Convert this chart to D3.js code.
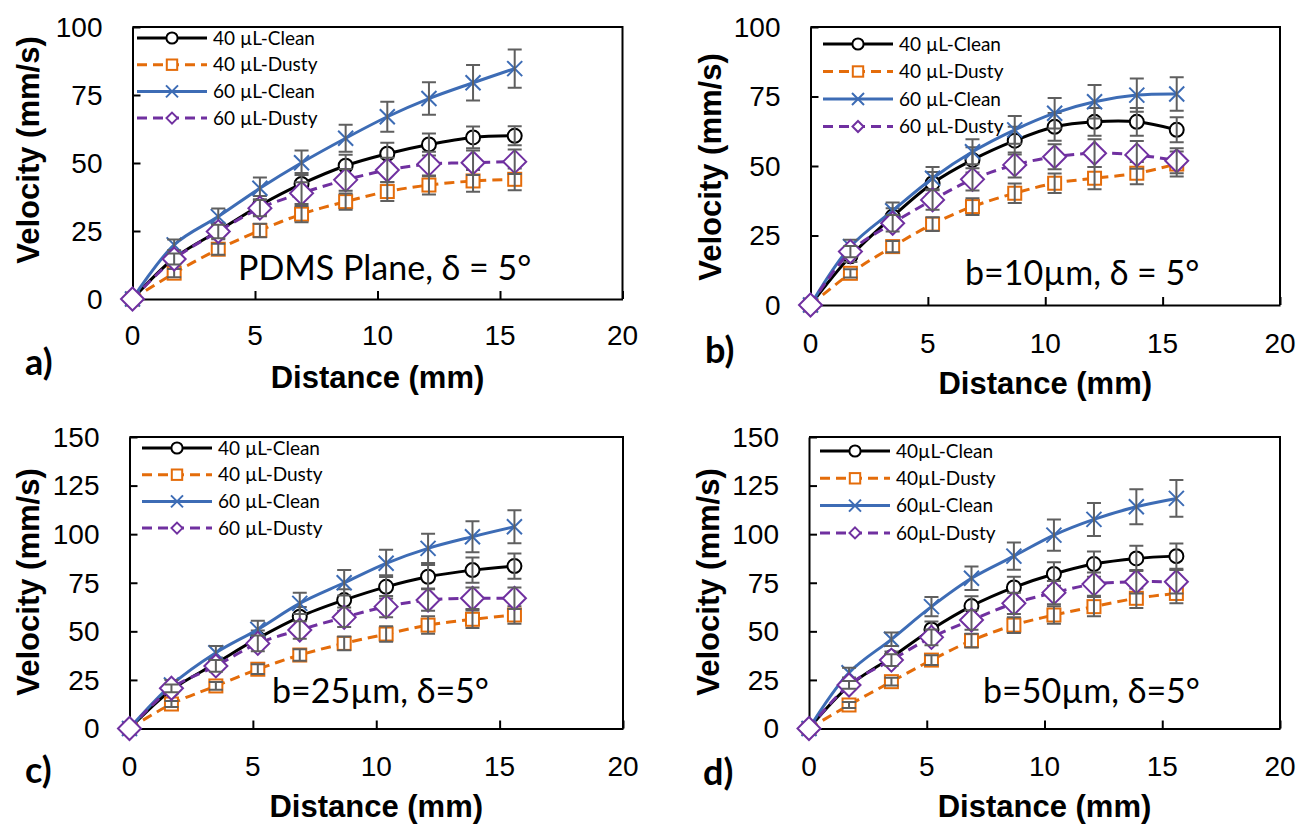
<!DOCTYPE html>
<html>
<head>
<meta charset="utf-8">
<script src="https://cdn.jsdelivr.net/npm/d3@7"></script>
<style>
  body { margin: 0; background: #fff; }
  svg { display: block; }
</style>
</head>
<body>
<div id="chart"></div>
<script>
"use strict";

// ---- data ----
const distance = [0, 1.7, 3.5, 5.2, 6.9, 8.7, 10.4, 12.1, 13.9, 15.6];
const xTicks = [0, 5, 10, 15, 20];
const yTicksTop = [0, 25, 50, 75, 100];
const yTicksBottom = [0, 25, 50, 75, 100, 125, 150];
const legendSpaced = ["40 µL-Clean", "40 µL-Dusty", "60 µL-Clean", "60 µL-Dusty"];
const legendTight = ["40µL-Clean", "40µL-Dusty", "60µL-Clean", "60µL-Dusty"];
const notes = ["PDMS Plane, δ = 5°", "b=10µm, δ = 5°", "b=25µm, δ=5°", "b=50µm, δ=5°"];
const letters = ["a)", "b)", "c)", "d)"];

// rows: 40 clean, 40 dusty, 60 clean, 60 dusty (mm/s)
const velA = [
  [0, 15, 25, 34.4, 42.3, 49, 53.4, 56.8, 59.4, 60],
  [0, 9.5, 18.3, 25.2, 31.2, 35.8, 39.5, 41.9, 43.4, 44],
  [0, 19.9, 30.3, 40.7, 50.1, 59.1, 67, 73.7, 79.5, 84.7],
  [0, 14.7, 24.8, 33.4, 38.9, 43.8, 47.4, 49.6, 50.1, 50.5]
];
const errA = [
  [0, 2, 3, 3.5, 4, 4, 4, 4, 4, 3.5],
  [0, 1.5, 2, 2.5, 3, 3, 3.5, 3.5, 4, 4],
  [0, 2, 3, 4, 4.5, 5, 5.5, 6, 6.5, 7],
  [0, 2, 2.5, 3, 4, 4, 4.5, 4.5, 4.5, 4.5]
];
const velB = [
  [0, 17.5, 31.8, 43.8, 52.2, 59.1, 64.1, 65.9, 65.9, 63],
  [0, 11.4, 21, 29.1, 35.4, 40.2, 43.8, 45.6, 47.4, 50.7],
  [0, 21, 33.9, 45.6, 55.1, 63, 69, 73.1, 75.5, 75.9],
  [0, 19.2, 29.4, 37.8, 45.2, 50.4, 53.3, 54.6, 54, 51.9]
];
const errB = [
  [0, 2, 3, 4, 4.5, 5, 5, 5, 5, 4.5],
  [0, 1.5, 2, 2.5, 3, 3.5, 3.5, 4, 4, 4.5],
  [0, 2.5, 3, 4, 4.5, 5, 5.5, 6, 6, 6],
  [0, 2, 3, 3.5, 4, 4.5, 4.5, 5, 5, 4.5]
];
const velC = [
  [0, 19.8, 33.5, 46.4, 57.5, 66.1, 72.9, 78.1, 81.5, 83.6],
  [0, 12.6, 21.9, 30.5, 37.8, 43.8, 48.6, 53.2, 56.2, 58.4],
  [0, 22.4, 39, 51, 64.4, 75, 85, 92.7, 98.7, 103.8],
  [0, 20.7, 32.2, 43.8, 50.7, 57.2, 62.7, 66.1, 67, 67]
];
const errC = [
  [0, 2, 3, 4, 5, 5.5, 6, 6, 6.5, 6.5],
  [0, 1.5, 2, 2.5, 3, 3.5, 4, 4.5, 4.5, 4.5],
  [0, 2.5, 3.5, 4.5, 5.5, 6.5, 7, 7.5, 8, 8.5],
  [0, 2, 3, 4, 4.5, 5, 5.5, 5.5, 5.5, 5.5]
];
const velD = [
  [0, 21.9, 36.6, 51, 63, 72.6, 79.5, 84.6, 87.5, 88.7],
  [0, 12.1, 24.1, 35.2, 45.2, 53.2, 58.4, 62.7, 67, 69.5],
  [0, 28.7, 45.9, 62.7, 77.3, 88.7, 99.5, 107.6, 114.1, 118.4],
  [0, 22.4, 35.2, 46.9, 55.8, 64.4, 69.9, 74.3, 75.5, 75.5]
];
const errD = [
  [0, 2, 3, 4, 5, 5.5, 6, 6.5, 6.5, 6.5],
  [0, 1.5, 2, 2.5, 3.5, 4, 4.5, 5, 5, 5],
  [0, 2.5, 3.5, 5, 6, 7, 8, 8.5, 9, 9.5],
  [0, 2, 3, 4, 5, 5.5, 6, 6, 6, 6]
];

// ---- layout ----
const W = 1300, H = 825;
const panels = [
  { vel: velA, err: errA, yMax: 100, yTicks: yTicksTop, legend: legendSpaced,
    box: { l: 132.5, r: 622.5, t: 27, b: 299 }, tickLabelDy: 36, xTitleDy: 78,
    leg: { x: 137, y: 38, dy: 26.7 }, note: { x: 238, y: 280 },
    letter: { x: 25, y: 362 }, yTitle: { x: 28, y: 150 } },
  { vel: velB, err: errB, yMax: 100, yTicks: yTicksTop, legend: legendSpaced,
    box: { l: 810.5, r: 1280, t: 27, b: 305 }, tickLabelDy: 38, xTitleDy: 78,
    leg: { x: 823, y: 44, dy: 27.5 }, note: { x: 965, y: 285 },
    letter: { x: 705, y: 350 }, yTitle: { x: 710, y: 167 } },
  { vel: velC, err: errC, yMax: 150, yTicks: yTicksBottom, legend: legendSpaced,
    box: { l: 129.5, r: 623, t: 437, b: 728.5 }, tickLabelDy: 38, xTitleDy: 78,
    leg: { x: 142, y: 448, dy: 26.7 }, note: { x: 272, y: 703 },
    letter: { x: 25, y: 770 }, yTitle: { x: 28, y: 582 } },
  { vel: velD, err: errD, yMax: 150, yTicks: yTicksBottom, legend: legendTight,
    box: { l: 809, r: 1280, t: 437, b: 728.5 }, tickLabelDy: 38, xTitleDy: 78,
    leg: { x: 820, y: 451, dy: 27.3 }, note: { x: 983, y: 703 },
    letter: { x: 703, y: 772 }, yTitle: { x: 708, y: 582 } }
];

const styles = [
  { color: "#000000", dash: null, marker: "circle" },
  { color: "#E46C0A", dash: "10,6", marker: "square" },
  { color: "#3D6CB5", dash: null, marker: "cross" },
  { color: "#7030A0", dash: "10,6", marker: "diamond" }
];
const errColor = "#5f5f5f";
const tickFont = "'Liberation Sans', Arial, sans-serif";
const calibriLike = "Lato, 'Open Sans', sans-serif";

const svg = d3.select("#chart").append("svg")
  .attr("width", W).attr("height", H);

function drawMarker(g, type, x, y, color, big) {
  const s = big ? 1 : 0.8;
  if (type === "circle") {
    g.append("circle").attr("cx", x).attr("cy", y).attr("r", 7 * s)
      .attr("fill", "#fff").attr("stroke", color).attr("stroke-width", 2);
  } else if (type === "square") {
    const h = 6.5 * s;
    g.append("rect").attr("x", x - h).attr("y", y - h).attr("width", 2 * h).attr("height", 2 * h)
      .attr("fill", "#fff").attr("stroke", color).attr("stroke-width", 2);
  } else if (type === "cross") {
    const h = 7.5 * s;
    g.append("path").attr("d", `M${x - h},${y - h}L${x + h},${y + h}M${x - h},${y + h}L${x + h},${y - h}`)
      .attr("stroke", color).attr("stroke-width", 2);
  } else {
    const h = big ? 11.5 : 5.5;
    g.append("path").attr("d", `M${x},${y - h}L${x + h},${y}L${x},${y + h}L${x - h},${y}Z`)
      .attr("fill", "#fff").attr("stroke", color).attr("stroke-width", 2);
  }
}

panels.forEach(function (p, pi) {
  const g = svg.append("g");
  const xScale = d3.scaleLinear().domain([0, 20]).range([p.box.l, p.box.r]);
  const yScale = d3.scaleLinear().domain([0, p.yMax]).range([p.box.b, p.box.t]);

  // axes with inward ticks
  const xAxis = d3.axisBottom(xScale).tickValues(xTicks).tickSizeInner(-8).tickSizeOuter(0).tickFormat("");
  g.append("g").attr("transform", `translate(0,${p.box.b})`).call(xAxis)
    .call(s => s.selectAll("line,path").attr("stroke", "#000").attr("stroke-width", 2));
  const yAxis = d3.axisLeft(yScale).tickValues(p.yTicks).tickSizeInner(-8).tickSizeOuter(0).tickFormat("");
  g.append("g").attr("transform", `translate(${p.box.l},0)`).call(yAxis)
    .call(s => s.selectAll("line,path").attr("stroke", "#000").attr("stroke-width", 2));
  // top and right border
  g.append("path")
    .attr("d", `M${p.box.l},${p.box.t}H${p.box.r}V${p.box.b}`)
    .attr("fill", "none").attr("stroke", "#000").attr("stroke-width", 2);

  // tick labels
  g.selectAll(".xl").data(xTicks).enter().append("text")
    .attr("x", d => xScale(d)).attr("y", p.box.b + p.tickLabelDy).attr("dy", "0.35em")
    .attr("text-anchor", "middle").style("font-family", tickFont).style("font-size", "28px")
    .text(d => d);
  g.selectAll(".yl").data(p.yTicks).enter().append("text")
    .attr("x", p.box.l - 30).attr("y", d => yScale(d)).attr("dy", "0.35em")
    .attr("text-anchor", "end").style("font-family", tickFont).style("font-size", "28px")
    .text(d => d);

  // axis titles
  g.append("text")
    .attr("x", (p.box.l + p.box.r) / 2).attr("y", p.box.b + p.xTitleDy).attr("dy", "0.35em")
    .attr("text-anchor", "middle").style("font-family", tickFont).style("font-weight", "bold")
    .style("font-size", "31px").text("Distance (mm)");
  g.append("text")
    .attr("transform", `translate(${p.yTitle.x},${p.yTitle.y}) rotate(-90)`).attr("dy", "0.35em")
    .attr("text-anchor", "middle").style("font-family", tickFont).style("font-weight", "bold")
    .style("font-size", "31px").text("Velocity (mm/s)");

  // panel letter
  g.append("text").attr("x", p.letter.x).attr("y", p.letter.y).attr("dy", "0.35em")
    .style("font-family", calibriLike).style("font-weight", "bold").style("font-size", "36px")
    .text(letters[pi]);

  // annotation
  g.append("text").attr("x", p.note.x).attr("y", p.note.y)
    .style("font-family", calibriLike).style("font-size", "34px").text(notes[pi]);

  // series
  const line = d3.line()
    .x((d, i) => xScale(distance[i]))
    .y(d => yScale(d))
    .curve(d3.curveCatmullRom.alpha(0.5));

  p.vel.forEach(function (vals, si) {
    const st = styles[si];
    const sg = g.append("g");
    sg.append("path").datum(vals).attr("d", line)
      .attr("fill", "none").attr("stroke", st.color).attr("stroke-width", 3)
      .attr("stroke-dasharray", st.dash);
    vals.forEach(function (v, i) {
      drawMarker(sg, st.marker, xScale(distance[i]), yScale(v), st.color, true);
    });
    // error bars
    vals.forEach(function (v, i) {
      const e = p.err[si][i];
      if (!e) return;
      const x = xScale(distance[i]);
      const y1 = yScale(v + e), y2 = yScale(v - e);
      sg.append("path")
        .attr("d", `M${x},${y1}V${y2}M${x - 7},${y1}H${x + 7}M${x - 7},${y2}H${x + 7}`)
        .attr("stroke", errColor).attr("stroke-width", 2).attr("fill", "none");
    });
  });

  // legend
  p.legend.forEach(function (name, si) {
    const st = styles[si];
    const y = p.leg.y + si * p.leg.dy;
    g.append("line").attr("x1", p.leg.x).attr("x2", p.leg.x + 70).attr("y1", y).attr("y2", y)
      .attr("stroke", st.color).attr("stroke-width", 3).attr("stroke-dasharray", st.dash);
    drawMarker(g, st.marker, p.leg.x + 35, y, st.color, false);
    g.append("text").attr("x", p.leg.x + 76).attr("y", y).attr("dy", "0.35em")
      .style("font-family", calibriLike).style("font-size", "19px").text(name);
  });
});
</script>
</body>
</html>
